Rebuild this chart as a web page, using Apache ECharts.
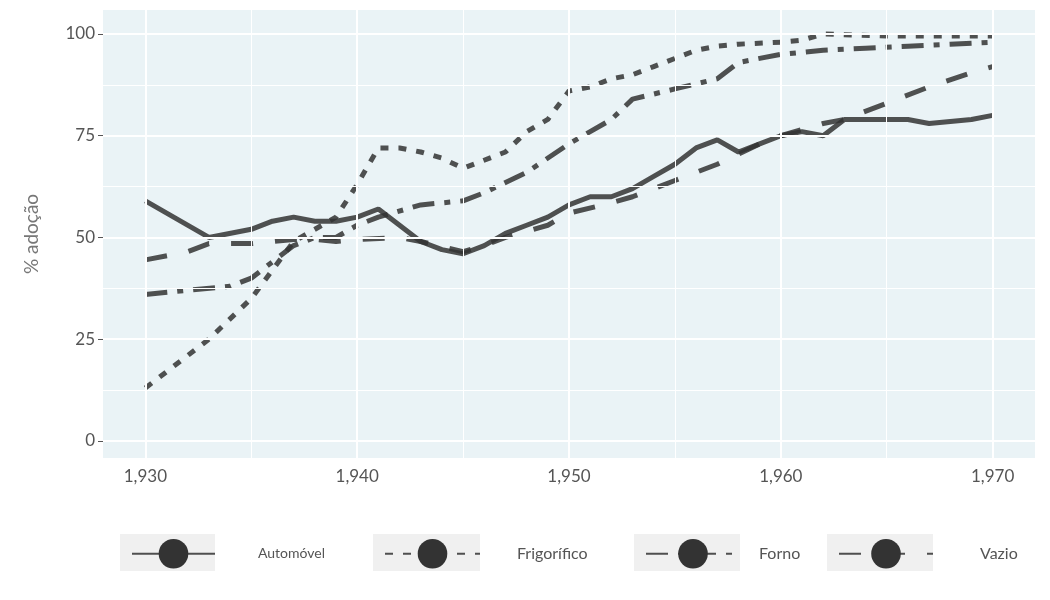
<!DOCTYPE html><html><head><meta charset="utf-8"><script src="https://cdn.jsdelivr.net/npm/echarts@6/dist/echarts.min.js"></script></head><body style="margin:0;background:#fff"><div id="c" style="width:1050px;height:600px"></div><script>
const automovel=[[1930,59],[1933,50],[1935,52],[1936,54],[1937,55],[1938,54],[1939,54],[1940,55],[1941,57],[1943,49],[1944,47],[1945,46],[1946,48],[1947,51],[1948,53],[1949,55],[1950,58],[1951,60],[1952,60],[1953,62],[1954,65],[1955,68],[1956,72],[1957,74],[1958,71],[1959,73],[1960,75],[1961,76],[1962,75],[1963,79],[1964,79],[1965,79],[1966,79],[1967,78],[1968,78.5],[1969,79],[1970,80]];
const frigorifico=[[1930,13],[1933,25],[1935,35],[1937,49],[1939,55],[1940,63],[1941,72],[1942,72],[1943,71],[1944,69.5],[1945,67],[1947,71],[1948,76],[1949,79],[1950,86],[1951,87],[1952,89],[1953,90],[1954,92],[1955,94],[1956,96],[1957,97],[1958,97.5],[1960,98],[1961,98.5],[1962,100],[1965,99.5],[1970,99.5]];
const forno=[[1930,36],[1932,37],[1934,38],[1935,40],[1936,44],[1937,48],[1938,50],[1939,50],[1940,53],[1941,55],[1943,58],[1945,59],[1946,61],[1948,66],[1950,73],[1952,79],[1953,84],[1955,86.5],[1957,89],[1958,93],[1960,95],[1962,96],[1964,96.5],[1966,97],[1968,97.5],[1970,98]];
const vazio=[[1930,44.5],[1932,46.5],[1933,48.5],[1935,48.5],[1937,49.5],[1938,49.5],[1939,49],[1940,49.5],[1942,50],[1943,49],[1945,46.5],[1946,48],[1947,50],[1949,53],[1950,56],[1952,58.5],[1953,60],[1955,64],[1957,68],[1959,73],[1960,75],[1962,78],[1963,79],[1965,83],[1967,87],[1969,90.5],[1970,92]];
const xTicks=[1930,1940,1950,1960,1970];
const yTicks=[0,25,50,75,100];
const names=['Automóvel','Frigorífico','Forno','Vazio'];
const dashes=['solid',[8,10],[22,10,6,10],[22,22]];
const datas=[automovel,frigorifico,forno,vazio];
const ch=echarts.init(document.getElementById('c'));
const F='Lato';
const keyLeft=[120,373,634,827], keyW=[95,107,106,106], txtGap=[38,32,14,42], txtSize=[14,16,16,16];
const gridSeries={type:'line',data:[],silent:true,z:1,markLine:{silent:true,symbol:'none',label:{show:false},animation:false,
 data:yTicks.map(v=>({yAxis:v,lineStyle:{width:2,color:'#fff',type:'solid'}}))
 .concat([12.5,37.5,62.5,87.5].map(v=>({yAxis:v,lineStyle:{width:1,color:'#fff',type:'solid'}})))
 .concat(xTicks.map(v=>({xAxis:v,lineStyle:{width:2,color:'#fff',type:'solid'}})))
 .concat([1935,1945,1955,1965].map(v=>({xAxis:v,lineStyle:{width:1,color:'#fff',type:'solid'}})))}};
ch.setOption({
 animation:false,
 grid:{left:103,right:15,top:10,bottom:142,show:true,backgroundColor:'#eaf3f6',borderWidth:0},
 xAxis:{type:'value',min:1928,max:1972,axisLabel:{color:'#555',fontSize:17,fontFamily:F,customValues:xTicks,margin:10},
  axisLine:{show:false},axisTick:{show:true,length:5,customValues:xTicks,lineStyle:{color:'#555'}},splitLine:{show:false}},
 yAxis:{type:'value',min:-4.2,max:105.9,name:'% adoção',nameLocation:'middle',nameGap:62,nameTextStyle:{color:'#777',fontSize:19,fontFamily:F},
  axisLabel:{color:'#555',fontSize:17,fontFamily:F,customValues:yTicks},
  axisLine:{show:false},axisTick:{show:true,length:5,customValues:yTicks,lineStyle:{color:'#555'}},splitLine:{show:false}},
 graphic:keyLeft.map((l,i)=>({type:'rect',left:l,top:534,z:0,shape:{width:keyW[i],height:37},style:{fill:'#f0f0f0'}})),
 legend:names.map((n,i)=>({data:[n],left:keyLeft[i]+6,top:534,itemWidth:keyW[i]-12,itemHeight:37,itemGap:0,
  textStyle:{color:'#555',fontSize:txtSize[i],fontFamily:F,padding:[0,0,0,txtGap[i]]}})),
 series:datas.map((d,i)=>({name:names[i],type:'line',data:d,symbol:'none',z:3,
  lineStyle:{color:'#333',opacity:0.85,width:5,type:dashes[i]},itemStyle:{color:'#333'}})).concat([gridSeries])
});
</script></body></html>
